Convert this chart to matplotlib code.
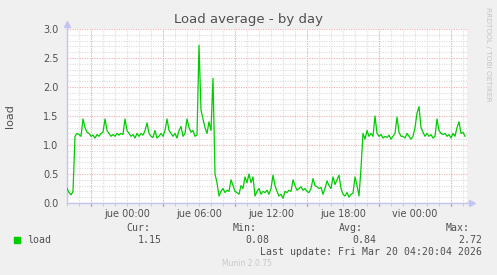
import pandas as pd
import matplotlib
matplotlib.use("Agg")
import matplotlib.pyplot as plt
from matplotlib.ticker import MultipleLocator
import matplotlib.dates as mdates

# === DATA (10-minute samples) ===
START = "2026-03-18 19:00"
END = "2026-03-20 04:20"
load = [
    0.25, 0.18, 0.14, 0.20, 1.15, 1.20, 1.18, 1.15, 1.45, 1.30, 1.22, 1.20,
    1.15, 1.17, 1.12, 1.18, 1.15, 1.20, 1.22, 1.45, 1.25, 1.20, 1.15, 1.18,
    1.15, 1.20, 1.17, 1.20, 1.18, 1.45, 1.25, 1.20, 1.15, 1.18, 1.12, 1.20,
    1.15, 1.20, 1.17, 1.25, 1.38,
    1.20, 1.15, 1.13, 1.25, 1.12, 1.15, 1.20, 1.15, 1.25, 1.45,
    1.25, 1.20, 1.15, 1.20, 1.12, 1.25, 1.32, 1.15, 1.20, 1.45,
    1.30, 1.22, 1.25, 1.15, 1.17, 2.72, 1.60, 1.45, 1.30, 1.20,
    1.40, 1.25, 2.15, 0.50, 0.35, 0.12, 0.20, 0.25, 0.18, 0.22,
    0.20, 0.40, 0.30, 0.20, 0.18, 0.15, 0.30, 0.25, 0.45, 0.35,
    0.50, 0.35, 0.45, 0.12, 0.20, 0.25, 0.15, 0.20, 0.18, 0.22,
    0.15, 0.25, 0.48, 0.30, 0.20, 0.12, 0.15, 0.08, 0.20, 0.18,
    0.22, 0.20, 0.40, 0.30, 0.22, 0.25, 0.28, 0.22, 0.25, 0.20,
    0.18, 0.25, 0.42, 0.30, 0.28, 0.25, 0.27,
    0.15, 0.25, 0.38, 0.30, 0.25, 0.45, 0.32, 0.40, 0.48, 0.25,
    0.15, 0.12, 0.18, 0.10, 0.15, 0.17, 0.45, 0.30, 0.12, 0.60,
    1.20, 1.10, 1.25, 1.15, 1.20, 1.15, 1.50, 1.20, 1.15, 1.18,
    1.12, 1.15, 1.13, 1.17, 1.10, 1.15, 1.20, 1.48, 1.22, 1.15,
    1.15, 1.12, 1.20, 1.15, 1.10, 1.15, 1.30, 1.55, 1.66, 1.30,
    1.22, 1.15, 1.20, 1.15, 1.18, 1.12, 1.15, 1.45, 1.25, 1.20,
    1.18, 1.20, 1.15, 1.18, 1.12, 1.20, 1.15, 1.30, 1.40, 1.20,
    1.22, 1.15,
]
times = pd.date_range(START, periods=len(load), freq="10min")

x_tick_times = pd.to_datetime(["2026-03-19 00:00", "2026-03-19 06:00", "2026-03-19 12:00",
                               "2026-03-19 18:00", "2026-03-20 00:00"])
x_tick_labels = ["jue 00:00", "jue 06:00", "jue 12:00", "jue 18:00", "vie 00:00"]
red_grid_times = pd.date_range("2026-03-18 21:00", "2026-03-20 03:00", freq="6h")

legend_heads = ["Cur:", "Min:", "Avg:", "Max:"]
legend_vals = [1.15, 0.08, 0.84, 2.72]
last_update = "Last update: Fri Mar 20 04:20:04 2026"

# === STYLE ===
W, H = 497, 275
BG = "#F0F0F0"
TXT = "#505050"
LINE = "#00CC00"
RED_GRID = "#EFB0B0"
GRAY_GRID = "#DCDCDC"
AXIS = "#C4C4F4"
DOT = (0, (1, 1.2))

fig = plt.figure(figsize=(W / 100, H / 100), dpi=100, facecolor=BG)
ax = fig.add_axes([67 / W, 72 / H, 400 / W, 174 / H], facecolor="white")

ax.plot(times, load, color=LINE, lw=0.9, zorder=3)

ax.set_xlim(pd.Timestamp(START), pd.Timestamp(END))
ax.set_ylim(0, 3.0)

# y grid
ax.yaxis.set_major_locator(MultipleLocator(0.5))
ax.yaxis.set_minor_locator(MultipleLocator(0.1))
ax.yaxis.set_major_formatter(lambda v, p: f"{v:.1f}")
ax.yaxis.grid(True, which="minor", color=GRAY_GRID, ls=DOT, lw=0.8)
ax.yaxis.grid(True, which="major", color=RED_GRID, ls=DOT, lw=0.8)

# x grid
ax.set_xticks(x_tick_times, x_tick_labels)
ax.xaxis.set_minor_locator(mdates.HourLocator())
ax.xaxis.remove_overlapping_locs = False
ax.xaxis.grid(True, which="minor", color=GRAY_GRID, ls=DOT, lw=0.8)
for t in red_grid_times:
    ax.axvline(t, color=RED_GRID, ls=DOT, lw=0.8, zorder=1)
    ax.axvline(t, ymin=-0.015, ymax=0, color="#E09090", lw=0.8, clip_on=False)
ax.set_axisbelow(True)

ax.tick_params(axis="both", which="major", length=0, labelsize=7, labelcolor=TXT)
ax.tick_params(axis="y", which="major", pad=6)
ax.tick_params(axis="x", which="major", pad=4)
ax.tick_params(axis="y", which="minor", length=0)
ax.tick_params(axis="x", which="minor", length=2, color="#CCCCCC", width=0.8)

for s in ["top", "right"]:
    ax.spines[s].set_visible(False)
for s in ["left", "bottom"]:
    ax.spines[s].set_color(AXIS)
    ax.spines[s].set_linewidth(1.0)

# axis arrows
ax.plot([0, 0], [1.0, 1.02], color=AXIS, lw=1.0, transform=ax.transAxes, clip_on=False)
ax.plot([1.0, 1.008], [0, 0], color=AXIS, lw=1.0, transform=ax.transAxes, clip_on=False)
ax.plot([0], [1.028], marker="^", ms=4.5, color=AXIS, transform=ax.transAxes, clip_on=False)
ax.plot([1.012], [0], marker=">", ms=4.5, color=AXIS, transform=ax.transAxes, clip_on=False)

# texts
fig.text(0.5, 1 - 19 / H, "Load average - by day", ha="center", va="center",
         fontsize=9.5, color=TXT)
fig.text(10 / W, 1 - 116 / H, "load", rotation=90, ha="center", va="center",
         fontsize=8, color=TXT)
fig.text(488 / W, 1 - 54 / H, "RRDTOOL / TOBI OETIKER", rotation=270, ha="center",
         va="center", fontsize=5.3, color="#C4C4C4")

mono = dict(family="DejaVu Sans Mono", fontsize=7.1, color=TXT, va="center")
head_right = [150, 257, 363, 470]
val_right = [162, 269, 376, 482]
for hx, vx, head, val in zip(head_right, val_right, legend_heads, legend_vals):
    fig.text(hx / W, 1 - 228 / H, head, ha="right", **mono)
    fig.text(vx / W, 1 - 240 / H, f"{val:.2f}", ha="right", **mono)
fig.patches.append(plt.Rectangle((14 / W, 1 - 243 / H), 6 / W, 6 / H, color=LINE,
                                 transform=fig.transFigure, figure=fig))
fig.text(27 / W, 1 - 240 / H, "load", ha="left", **mono)
fig.text(482 / W, 1 - 252 / H, last_update, ha="right", **mono)
fig.text(247 / W, 1 - 263 / H, "Munin 2.0.75", ha="center", va="center",
         fontsize=5.5, color="#C8C8C8")

fig.savefig("out.png", dpi=100, facecolor=BG)
